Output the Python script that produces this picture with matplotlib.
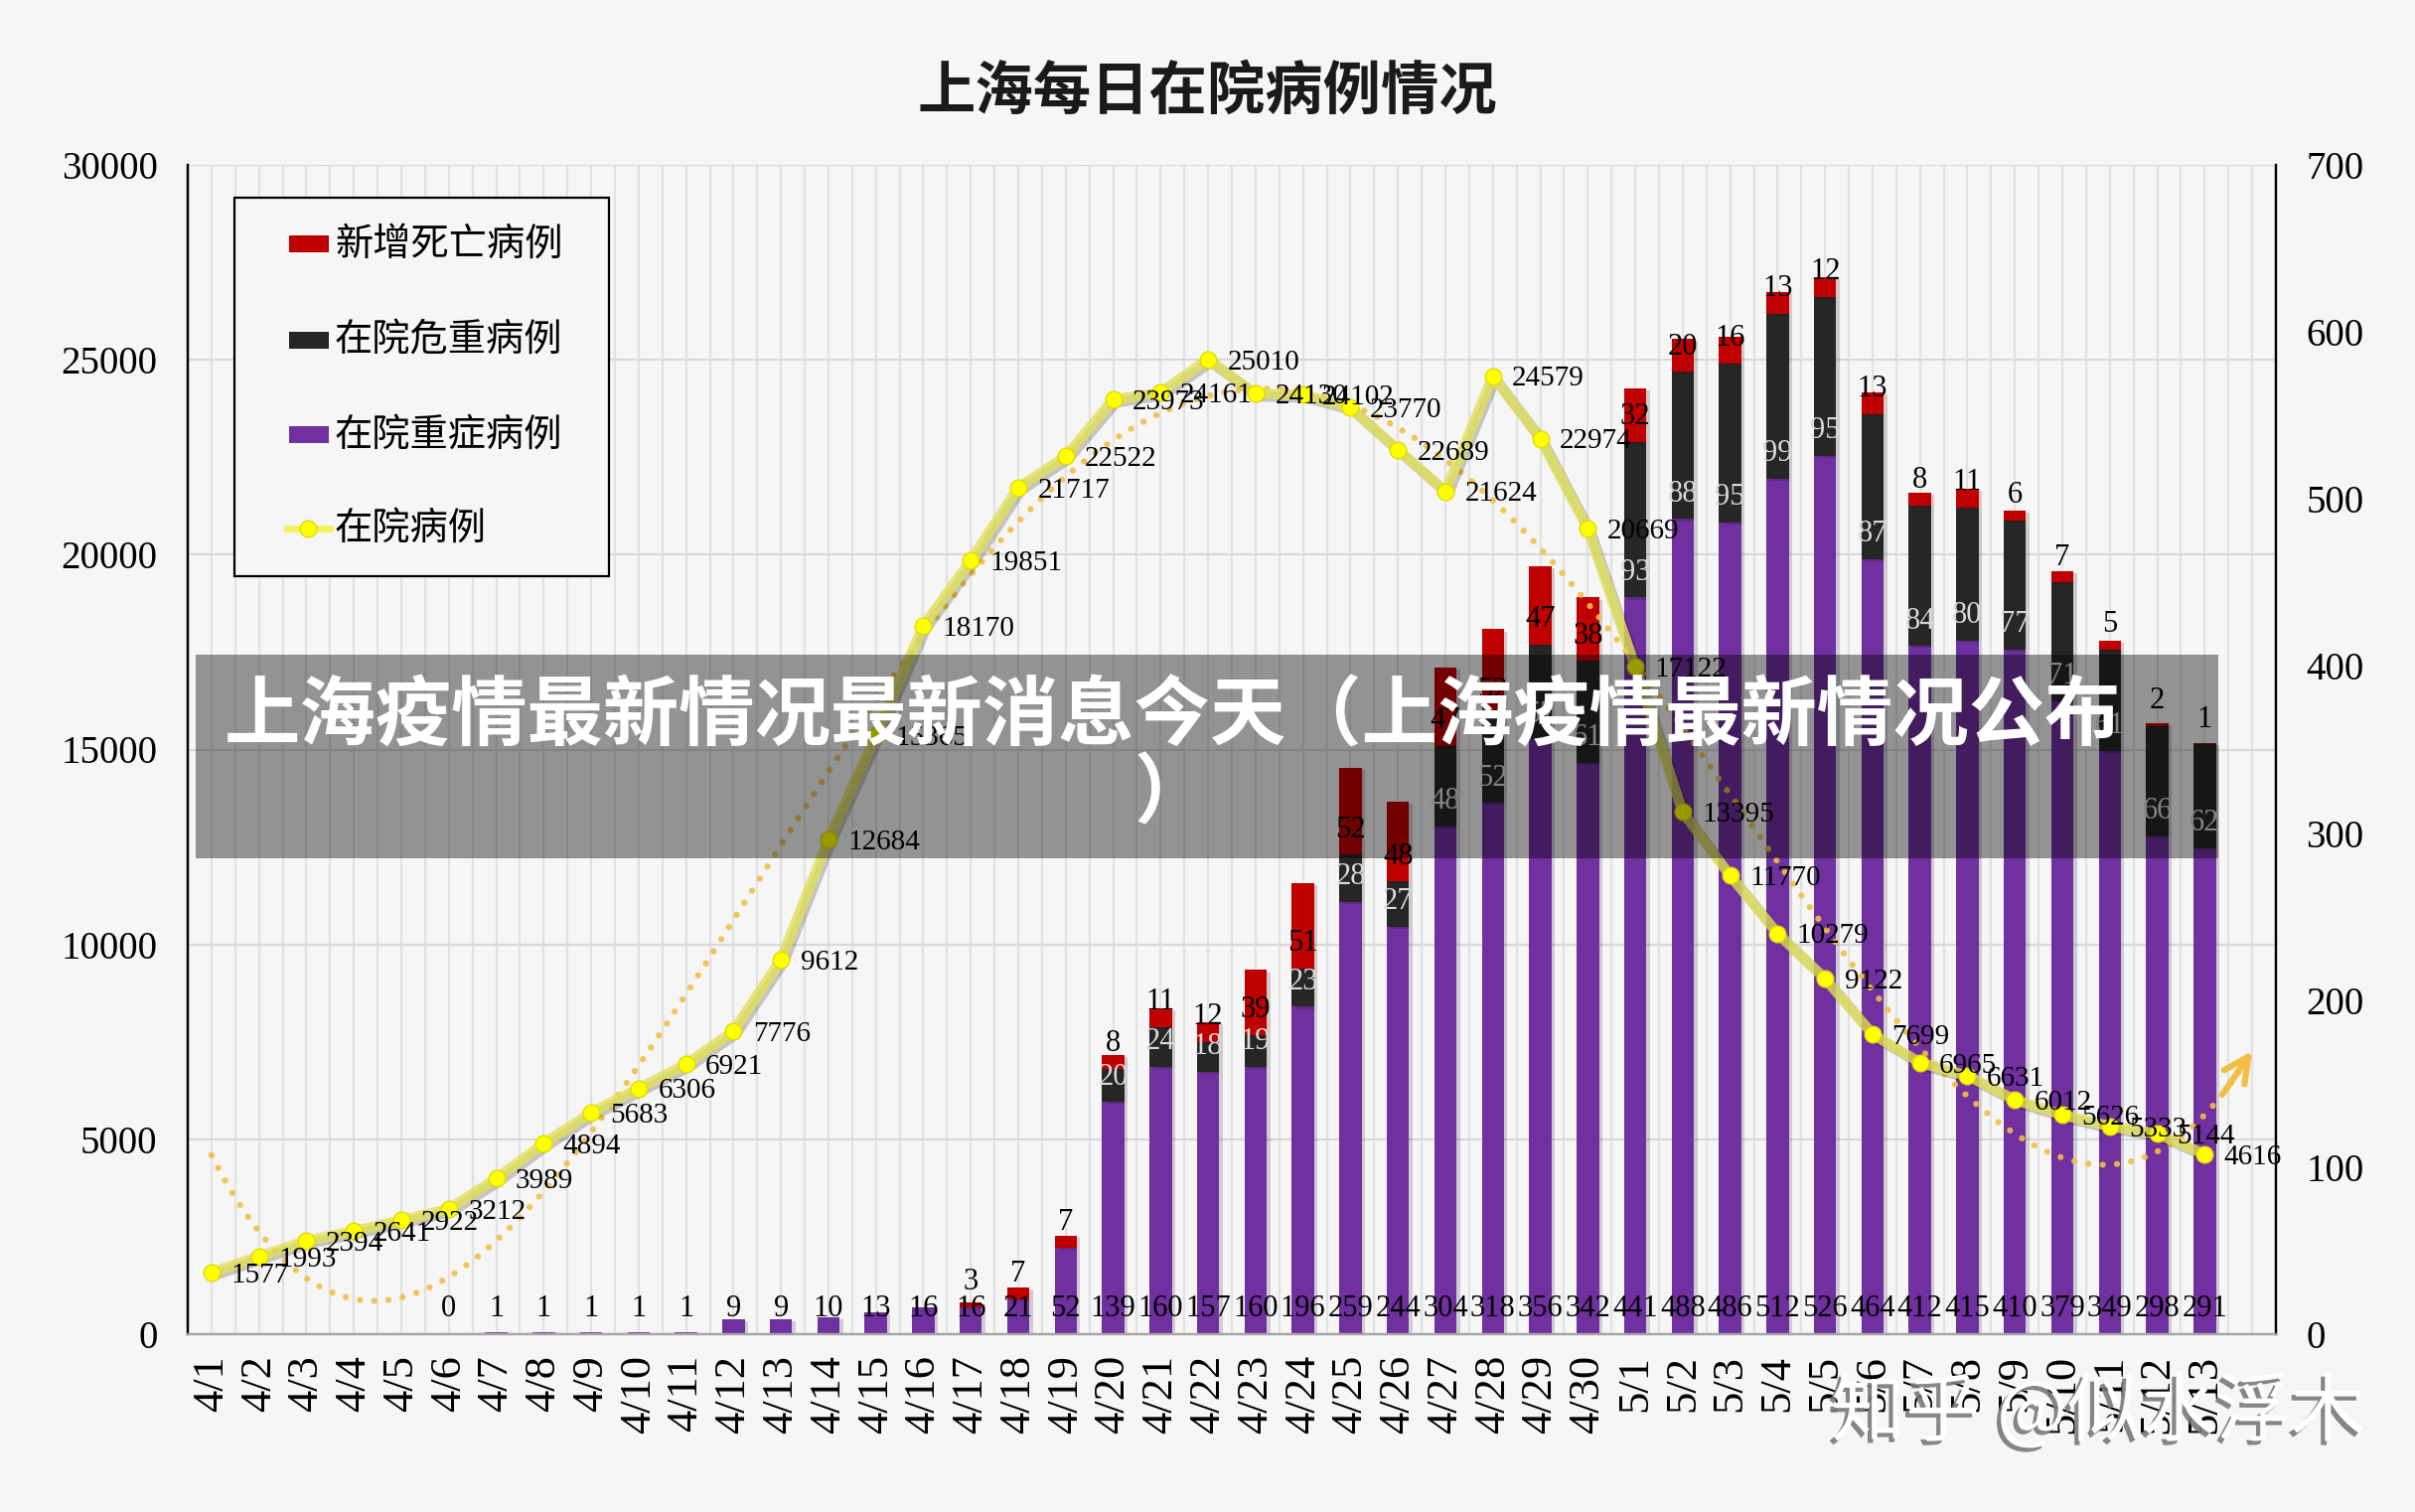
import numpy as np
import matplotlib
matplotlib.use("Agg")
import matplotlib.pyplot as plt
from matplotlib.patches import Rectangle
from matplotlib.lines import Line2D
import matplotlib.patheffects as pe

# ---------------- data ----------------
dates = ["4/1", "4/2", "4/3", "4/4", "4/5", "4/6", "4/7", "4/8", "4/9", "4/10", "4/11",
         "4/12", "4/13", "4/14", "4/15", "4/16", "4/17", "4/18", "4/19", "4/20", "4/21",
         "4/22", "4/23", "4/24", "4/25", "4/26", "4/27", "4/28", "4/29", "4/30",
         "5/1", "5/2", "5/3", "5/4", "5/5", "5/6", "5/7", "5/8", "5/9", "5/10",
         "5/11", "5/12", "5/13"]

hospitalized = [1577, 1993, 2394, 2641, 2922, 3212, 3989, 4894, 5683, 6306, 6921,
                7776, 9612, 12684, 15365, 18170, 19851, 21717, 22522, 23973, 24161,
                25010, 24130, 24102, 23770, 22689, 21624, 24579, 22974, 20669,
                17122, 13395, 11770, 10279, 9122, 7699, 6965, 6631, 6012, 5626,
                5333, 5144, 4616]

severe = [None, None, None, None, None, 0, 1, 1, 1, 1, 1,
          9, 9, 10, 13, 16, 16, 21, 52, 139, 160,
          157, 160, 196, 259, 244, 304, 318, 356, 342,
          441, 488, 486, 512, 526, 464, 412, 415, 410, 379,
          349, 298, 291]

critical = [0, 0, 0, 0, 0, 0, 0, 0, 0, 0, 0,
            0, 0, 0, 0, 0, 0, 0, 0, 20, 24,
            18, 19, 23, 28, 27, 48, 52, 57, 61,
            93, 88, 95, 99, 95, 87, 84, 80, 77, 71,
            61, 66, 62]

deaths = [0, 0, 0, 0, 0, 0, 0, 0, 0, 0, 0,
          0, 0, 0, 0, 0, 3, 7, 7, 8, 11,
          12, 39, 51, 52, 48, 47, 52, 47, 38,
          32, 20, 16, 13, 12, 13, 8, 11, 6, 7,
          5, 2, 1]

legend_labels = ["新增死亡病例", "在院危重病例", "在院重症病例", "在院病例"]
title = "上海每日在院病例情况"
banner_line1 = "上海疫情最新情况最新消息今天（上海疫情最新情况公布"
banner_line2 = "）"
watermark = "知乎 @似水浮木"

# ---------------- style ----------------
W, H = 2431, 1522
DPI = 100
BG = "#f6f6f6"
PURPLE = "#7030A0"
BLACK = "#262626"
RED = "#C00000"
SERIF = ["Liberation Serif", "DejaVu Serif"]
CJK = ["Noto Sans CJK SC", "DejaVu Sans"]

plt.rcParams["font.family"] = SERIF

fig = plt.figure(figsize=(W / DPI, H / DPI), dpi=DPI, facecolor=BG)

def fx(px):
    return px / W

def fy(py):
    return 1 - py / H

left, right, top, bottom = 189, 2291, 166, 1343
ax = fig.add_axes([fx(left), fy(bottom), fx(right) - fx(left), fy(top) - fy(bottom)])
ax.set_facecolor(BG)
ax2 = ax.twinx()

n = len(dates)
x = np.arange(n)
sev = np.array([np.nan if v is None else v for v in severe], dtype=float)
crit = np.array(critical, dtype=float)
dth = np.array(deaths, dtype=float)
sev0 = np.nan_to_num(sev)

RMAX = 700
LMAX = 30000

# grid (below bars)
for v in np.arange(0, LMAX + 1, 5000):
    ax.axhline(v * RMAX / LMAX, color="#d9d9d9", lw=1.6, zorder=0.5)
for gx in np.arange(-0.5, n + 0.51, 0.5):
    ax.axvline(gx, color="#e2e2e2", lw=1.6, zorder=0.4)

shadow = [pe.SimplePatchShadow(offset=(2.5, -1.5), alpha=0.18), pe.Normal()]
bw = 0.47
b1 = ax.bar(x, sev0, bw, color=PURPLE, zorder=2)
b2 = ax.bar(x, crit, bw, bottom=sev0, color=BLACK, zorder=2)
b3 = ax.bar(x, dth, bw, bottom=sev0 + crit, color=RED, zorder=2)
for bars in (b1, b2, b3):
    for r in bars:
        r.set_path_effects(shadow)

# bar labels (inside base)
BLBL = 22
LBL = 21
off = 15
for i in range(n):
    if not np.isnan(sev[i]):
        ax.text(i, off, f"{int(sev[i])}", ha="center", va="center", fontsize=BLBL,
                color="black", zorder=5)
    if crit[i] > 0:
        ax.text(i, sev0[i] + off, f"{int(crit[i])}", ha="center", va="center",
                fontsize=BLBL, color="#d9d9d9", zorder=5)
    if dth[i] > 0:
        ax.text(i, sev0[i] + crit[i] + off, f"{int(dth[i])}", ha="center", va="center",
                fontsize=BLBL, color="black", zorder=5)

ax.set_ylim(0, RMAX)
ax.set_xlim(-0.5, n + 0.5)
ax.yaxis.tick_right()
ax.set_yticks(np.arange(0, RMAX + 1, 100))
ax.tick_params(axis="y", length=0, pad=22, labelsize=28)

# line on ax2
hosp = np.array(hospitalized, dtype=float)
ax2.plot(x, hosp, color="#E2E05A", lw=7.5, alpha=0.8, zorder=3,
         solid_capstyle="round",
         path_effects=[pe.SimpleLineShadow(offset=(2, -2), alpha=0.2), pe.Normal()])
ax2.plot(x, hosp, ls="none", marker="o", ms=12, mfc="#FFFF00", mec="#e0dc00",
         mew=1, zorder=4)
for i, v in enumerate(hospitalized):
    ax2.annotate(f"{v}", (i, v), xytext=(14, -2), textcoords="offset points",
                 ha="left", va="center", fontsize=LBL, color="black", zorder=6)

# polynomial trendline (order 4, forecast forward 1 period)
xp = np.arange(1, n + 1)
coef = np.polyfit(xp, hosp, 4)
xs = np.linspace(1, n + 1, 500)
ys = np.polyval(coef, xs)
TREND = "#F2BE45"
ax2.plot(xs - 1, ys, color=TREND, lw=4.5, ls=(0, (0.01, 2.3)),
         dash_capstyle="round", zorder=2.5, alpha=0.9)
ax2.annotate("", xy=(xs[-1] - 1, ys[-1]), xytext=(xs[-8] - 1, ys[-8]),
             arrowprops=dict(arrowstyle="->", color=TREND, lw=4.5,
                             mutation_scale=45, shrinkA=0, shrinkB=0),
             zorder=2.5)

ax2.set_ylim(0, LMAX)
ax2.yaxis.tick_left()
ax2.set_yticks(np.arange(0, LMAX + 1, 5000))
ax2.tick_params(axis="y", length=0, pad=22, labelsize=28)

ax.set_xticks(x)
ax.set_xticklabels(dates, rotation=90, fontsize=32)
ax.tick_params(axis="x", length=0, pad=15)

for a in (ax, ax2):
    a.spines["top"].set_visible(False)
    a.spines["left"].set_color("black")
    a.spines["right"].set_color("black")
    a.spines["left"].set_linewidth(1.6)
    a.spines["right"].set_linewidth(1.6)
    a.spines["bottom"].set_color("#a6a6a6")
    a.spines["bottom"].set_linewidth(1.6)

# title
fig.text(0.5, fy(93), title, ha="center", va="center", fontsize=42,
         fontweight="black", family=CJK, color="#1a1a1a")

# legend (manual, figure pixel coordinates)
fig.add_artist(Rectangle((fx(236), fy(580)), fx(613) - fx(236), fy(199) - fy(580),
                         transform=fig.transFigure, facecolor=BG, edgecolor="black",
                         lw=1.6, zorder=7))
ys_leg = [246, 343, 438, 532]
for yl, col in zip(ys_leg[:3], [RED, BLACK, PURPLE]):
    fig.add_artist(Rectangle((fx(291), fy(yl + 8)), fx(40), 17 / H,
                             transform=fig.transFigure, facecolor=col,
                             edgecolor="none", zorder=8))
fig.add_artist(Line2D([fx(289), fx(332)], [fy(ys_leg[3])] * 2,
                      transform=fig.transFigure, color="#F4F25A", lw=5, zorder=8))
fig.add_artist(Line2D([fx(310)], [fy(ys_leg[3])], transform=fig.transFigure,
                      marker="o", ms=12, mfc="#FFFF00", mec="#e0dc00", zorder=9))
for yl, lab in zip(ys_leg, legend_labels):
    fig.text(fx(337), fy(yl), lab, ha="left", va="center", fontsize=27.5,
             family=CJK, color="black", zorder=9)

# banner overlay
fig.add_artist(Rectangle((fx(197), fy(864)), fx(2233) - fx(197), fy(659) - fy(864),
                         transform=fig.transFigure, facecolor="black", alpha=0.4,
                         edgecolor="none", zorder=20))
fig.text(fx(1180), fy(722), banner_line1, ha="center", va="center", fontsize=55,
         fontweight="black", family=CJK, color="white", zorder=21)
fig.text(fx(1180), fy(800), banner_line2, ha="center", va="center", fontsize=55,
         fontweight="black", family=CJK, color="white", zorder=21)

# watermark
fig.text(fx(2112), fy(1423), watermark, ha="center", va="center", fontsize=54,
         family=CJK, color="white", zorder=22,
         path_effects=[pe.withSimplePatchShadow(offset=(-3, -3),
                                                shadow_rgbFace="#7a7a7a", alpha=0.9)])

fig.savefig("out.png", dpi=DPI, facecolor=BG)
